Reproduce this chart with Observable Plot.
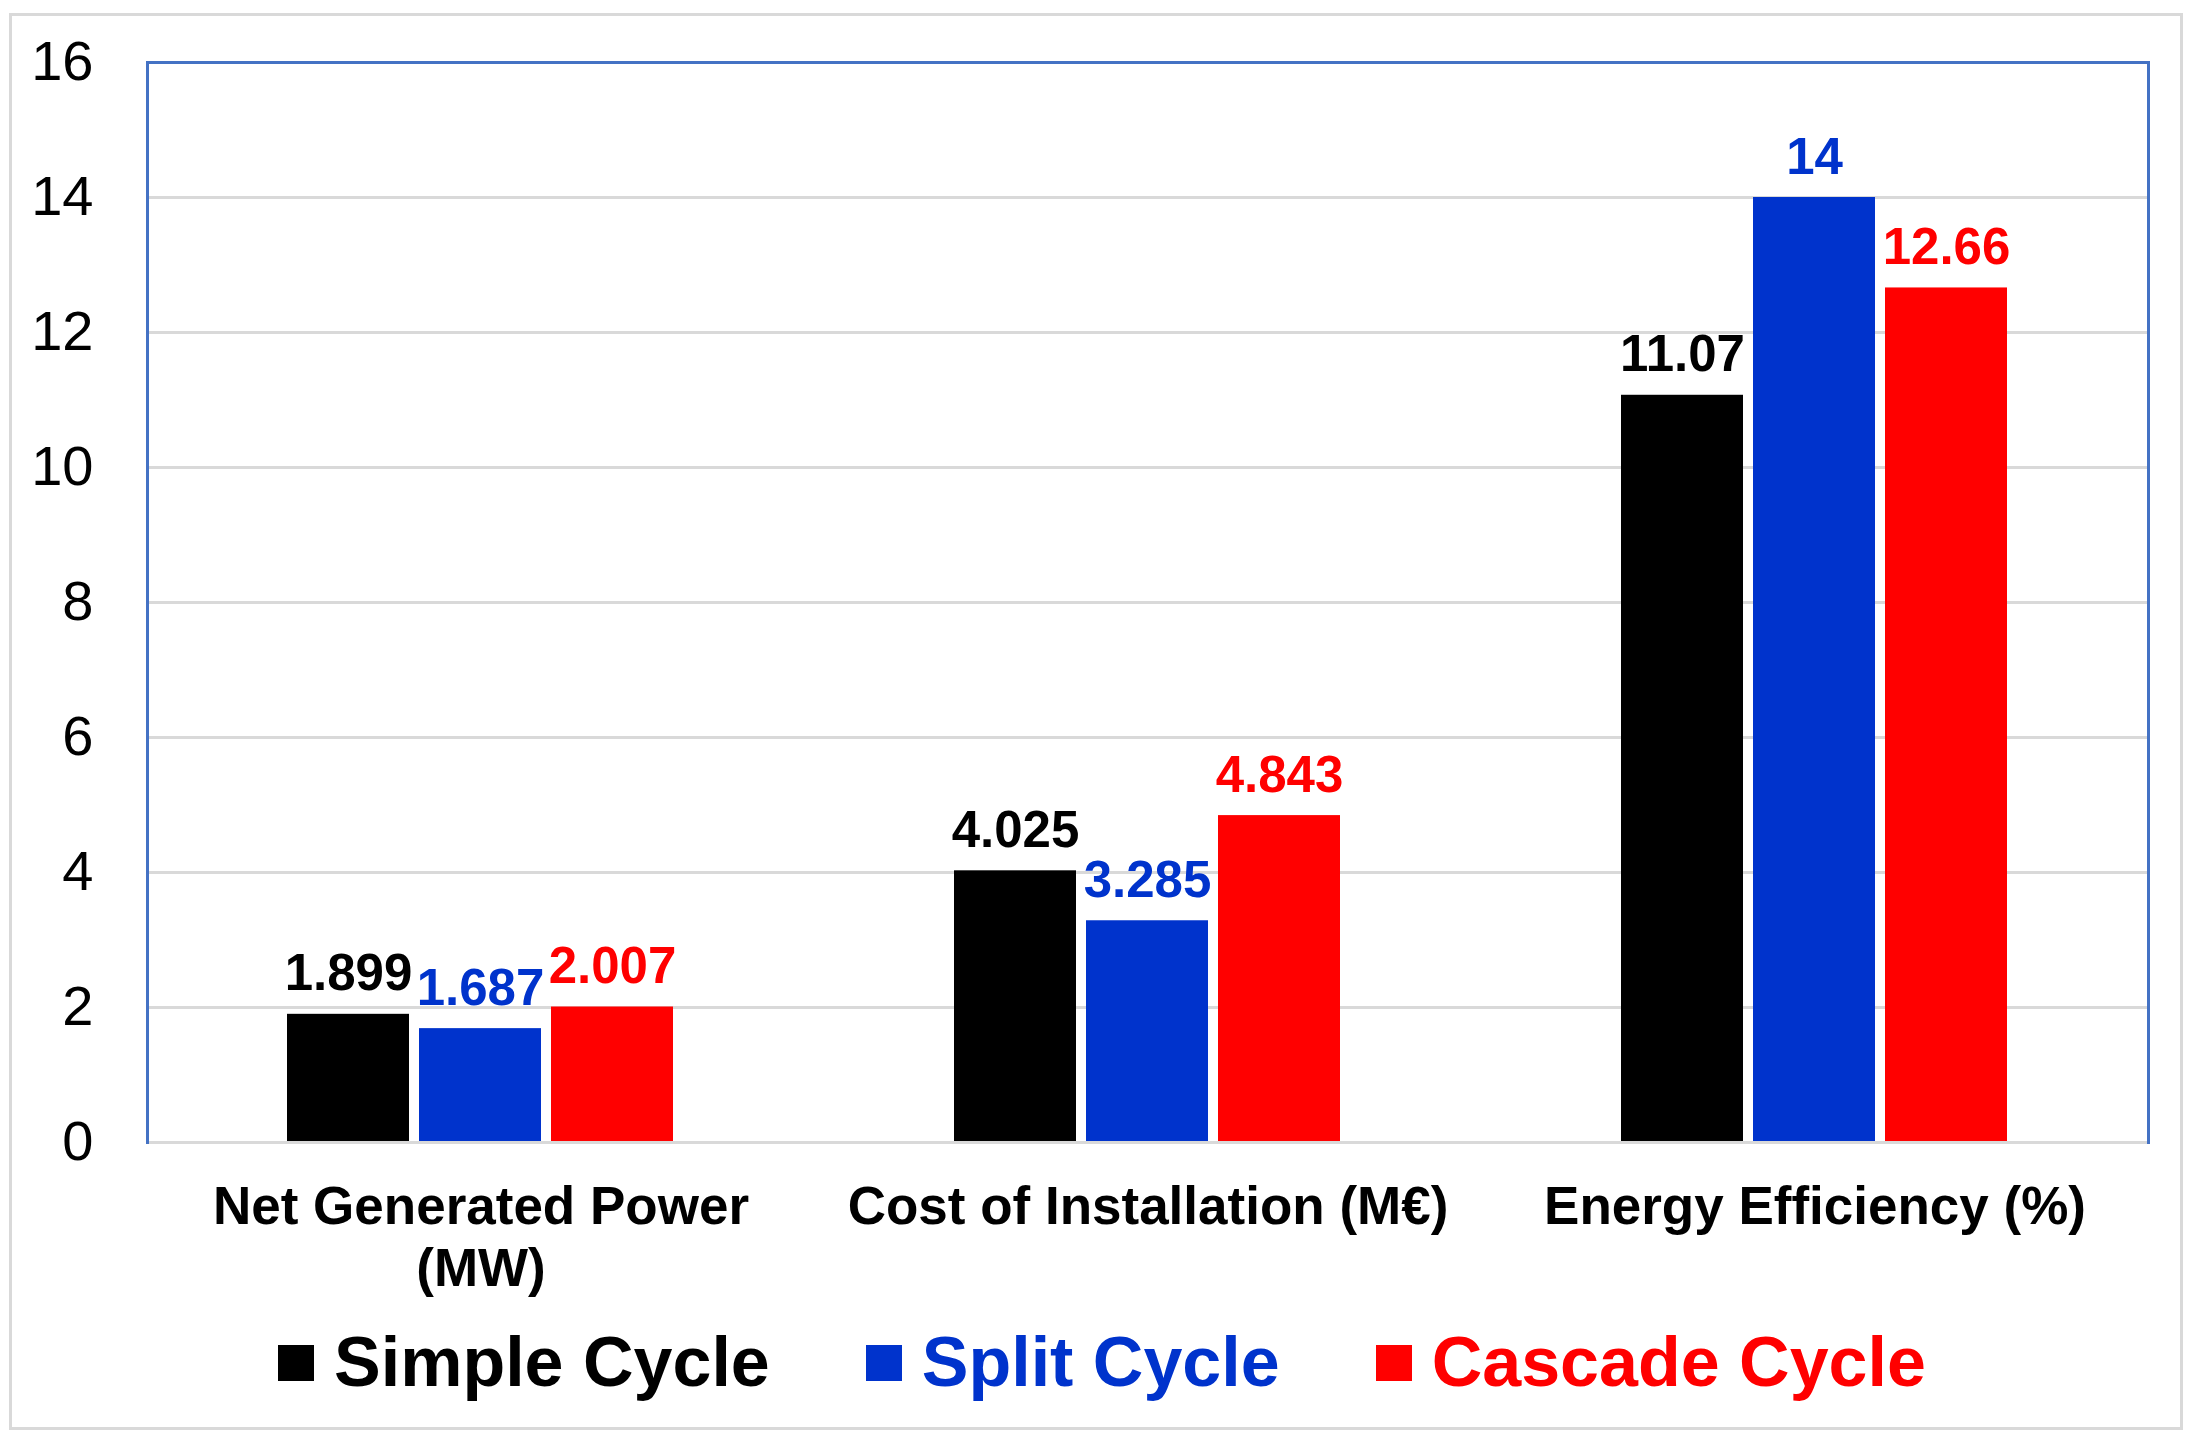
<!DOCTYPE html>
<html>
<head>
<meta charset="utf-8">
<script src="https://cdn.jsdelivr.net/npm/d3@7"></script>
<script src="https://cdn.jsdelivr.net/npm/@observablehq/plot@0.6"></script>
<style>
  html, body { margin: 0; padding: 0; background: #ffffff; overflow: hidden; }
  #wrap { position: relative; width: 2193px; height: 1437px; font-family: "Liberation Sans", Arial, sans-serif; }
  #border { position: absolute; left: 9px; top: 13px; width: 2174px; height: 1417px; border: 3px solid #d9d9d9; box-sizing: border-box; }
  #chart { position: absolute; left: 0; top: 0; }
  #legend { position: absolute; left: 278px; top: 1327px; display: flex; align-items: center; font-size: 70px; font-weight: bold; line-height: 71px; white-space: nowrap; }
  .item { display: flex; align-items: center; margin-right: 96px; }
  .item:last-child { margin-right: 0; }
  .sw { width: 36px; height: 36px; margin-right: 20px; }
</style>
</head>
<body>
<div id="wrap">
  <div id="border"></div>
  <div id="chart"></div>
  <div id="legend"></div>
</div>
<script>
const categories = ["Net Generated Power\n(MW)", "Cost of Installation (M€)", "Energy Efficiency (%)"];
const series = ["Simple Cycle", "Split Cycle", "Cascade Cycle"];
const simpleCycle = [1.899, 4.025, 11.07];
const splitCycle = [1.687, 3.285, 14];
const cascadeCycle = [2.007, 4.843, 12.66];
const seriesColors = ["#000000", "#0033cc", "#ff0000"];
const yTicks = [0, 2, 4, 6, 8, 10, 12, 14, 16];

const valuesBySeries = [simpleCycle, splitCycle, cascadeCycle];
const data = [];
categories.forEach((c, i) => {
  series.forEach((s, j) => {
    data.push({category: c, series: s, value: valuesBySeries[j][i]});
  });
});

const frameBlue = "#4472c4";
const gridGray = "#d9d9d9";

const chart = Plot.plot({
  width: 2193,
  height: 1320,
  marginLeft: 146,
  marginRight: 45,
  marginTop: 62,
  marginBottom: 178,
  style: {fontFamily: "'Liberation Sans', Arial, sans-serif", background: "transparent", overflow: "visible"},
  fx: {domain: categories, padding: 0, axis: null},
  x: {domain: series, paddingInner: 0.075, paddingOuter: 1.046, axis: null},
  y: {domain: [0, 16], axis: null},
  color: {domain: series, range: seriesColors},
  marks: [
    Plot.gridY(yTicks, {stroke: gridGray, strokeOpacity: 1, strokeWidth: 3}),
    Plot.barY(data, {fx: "category", x: "series", y: "value", fill: "series"}),
    Plot.ruleY([0], {stroke: gridGray, strokeWidth: 3}),
    Plot.text(data, {
      fx: "category", x: "series", y: "value",
      text: d => String(d.value),
      fill: "series",
      lineAnchor: "bottom",
      dy: -24,
      fontSize: 51,
      fontWeight: "bold"
    }),
    Plot.frame({anchor: "top", stroke: frameBlue, strokeWidth: 3}),
    Plot.frame({anchor: "left", stroke: frameBlue, strokeWidth: 3, facetAnchor: "left"}),
    Plot.frame({anchor: "right", stroke: frameBlue, strokeWidth: 3, facetAnchor: "right"}),
    Plot.axisY(yTicks, {tickSize: 0, tickPadding: 54, fontSize: 56, label: null, fill: "#000000", tickFormat: d => String(d)}),
    Plot.axisFx({anchor: "bottom", tickSize: 0, tickPadding: 37, fontSize: 53, fontWeight: "bold", lineHeight: 1.17, label: null, fill: "#000000"})
  ]
});
document.getElementById("chart").appendChild(chart);

const legend = document.getElementById("legend");
series.forEach((s, i) => {
  const item = document.createElement("div");
  item.className = "item";
  const sw = document.createElement("div");
  sw.className = "sw";
  sw.style.background = seriesColors[i];
  const label = document.createElement("span");
  label.textContent = s;
  label.style.color = seriesColors[i];
  item.appendChild(sw);
  item.appendChild(label);
  legend.appendChild(item);
});
</script>
</body>
</html>
